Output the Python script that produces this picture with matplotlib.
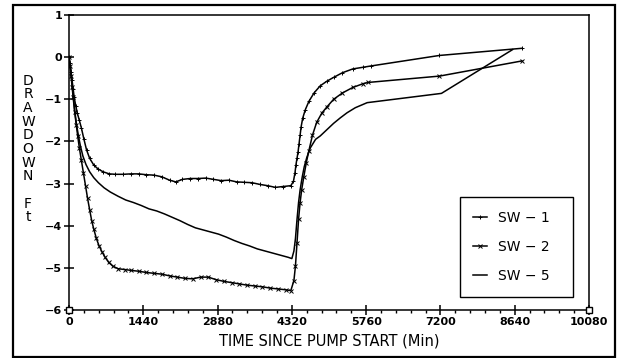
import matplotlib.pyplot as plt
import matplotlib.patches as patches
import numpy as np

### (0) Data (time in min, drawdown in ft) ###
t_sw1 = [0, 20, 40, 60, 80, 100, 130, 160, 200, 240, 290, 340, 400, 480, 560, 660, 780, 900,
         1050, 1200, 1350, 1500, 1650, 1800, 1950, 2070, 2200, 2350, 2500, 2650, 2800, 2950,
         3100, 3250, 3400, 3550, 3700, 3850, 4000, 4150, 4300,
         4350, 4380, 4400, 4420, 4440, 4460, 4480, 4500, 4530, 4580, 4650, 4750, 4870, 5000,
         5130, 5300, 5500, 5700, 5850, 7180, 8780]
d_sw1 = [0, -0.15, -0.35, -0.55, -0.75, -0.95, -1.15, -1.32, -1.5, -1.68, -1.95, -2.2, -2.4,
         -2.56, -2.65, -2.72, -2.77, -2.78, -2.78, -2.77, -2.77, -2.79, -2.80, -2.84, -2.92,
         -2.96, -2.90, -2.88, -2.88, -2.87, -2.90, -2.93, -2.92, -2.96, -2.97, -2.98, -3.02,
         -3.05, -3.09, -3.07, -3.05,
         -2.95, -2.75, -2.55, -2.40, -2.25, -2.05, -1.85, -1.65, -1.45, -1.25, -1.05, -0.85,
         -0.68, -0.57, -0.48, -0.37, -0.28, -0.24, -0.21, 0.04, 0.21]

t_sw2 = [0, 20, 40, 60, 80, 110, 140, 170, 200, 240, 280, 320, 360, 400, 440, 480, 530, 580,
         640, 700, 770, 850, 950, 1080, 1200, 1350, 1500, 1650, 1800, 1950, 2100, 2250, 2400,
         2550, 2700, 2850, 3000, 3150, 3300, 3450, 3600, 3750, 3900, 4050, 4200, 4300,
         4360, 4390, 4420, 4450, 4480, 4510, 4550, 4600, 4650, 4720, 4800, 4900, 5000, 5130,
         5300, 5500, 5700, 5800, 7180, 8780]
d_sw2 = [0, -0.2, -0.45, -0.7, -0.95, -1.3, -1.6, -1.88, -2.15, -2.45, -2.75, -3.05, -3.35,
         -3.62, -3.88, -4.08, -4.30, -4.47, -4.62, -4.75, -4.87, -4.96, -5.02, -5.04, -5.06,
         -5.08, -5.11, -5.13, -5.15, -5.19, -5.22, -5.25, -5.26, -5.22, -5.22, -5.28, -5.32,
         -5.35, -5.38, -5.41, -5.43, -5.45, -5.48, -5.50, -5.52, -5.54,
         -5.30, -4.95, -4.40, -3.85, -3.45, -3.15, -2.85, -2.50, -2.22, -1.85, -1.55, -1.33,
         -1.18, -1.00, -0.85, -0.72, -0.63, -0.60, -0.45, -0.09]

t_sw5 = [0, 20, 40, 60, 80, 110, 140, 180, 220, 270, 330, 400, 480, 570, 680, 800, 950, 1100,
         1250, 1400, 1550, 1700, 1850, 2000, 2150, 2300, 2450, 2600, 2750, 2900, 3050, 3200,
         3350, 3500, 3650, 3800, 3950, 4100, 4250, 4320,
         4360, 4390, 4420, 4450, 4480, 4520, 4560, 4610, 4680, 4780, 4870, 5000, 5130, 5260,
         5390, 5550, 5780, 7220, 8600]
d_sw5 = [0, -0.15, -0.4, -0.65, -0.9, -1.25, -1.55, -1.85, -2.1, -2.35, -2.55, -2.72, -2.86,
         -2.98, -3.10, -3.20, -3.30, -3.39, -3.45, -3.52, -3.60, -3.65, -3.72, -3.80, -3.88,
         -3.97, -4.05, -4.10, -4.15, -4.20, -4.27, -4.35, -4.42, -4.48, -4.55, -4.60, -4.65,
         -4.70, -4.75, -4.78,
         -4.60, -4.30, -3.85, -3.45, -3.15, -2.85, -2.60, -2.38, -2.15, -1.95, -1.87, -1.72,
         -1.57, -1.44, -1.32, -1.20, -1.08, -0.86, 0.18]

labels = ['SW \u2212 1  ', 'SW \u2212 2  ', 'SW \u2212 5  ']
x_ticks = [0, 1440, 2880, 4320, 5760, 7200, 8640, 10080]
y_ticks = [1, 0, -1, -2, -3, -4, -5, -6]

### (1) Figure ###
fig = plt.figure(figsize=(6.18, 3.58), dpi=100)
ax1 = fig.add_axes([69/618, 1-310/358, 520/618, 295/358])

ax1.plot(t_sw1, d_sw1, color='black', lw=1.1, marker='+', ms=3, mew=0.7, label=labels[0])
ax1.plot(t_sw2, d_sw2, color='black', lw=1.1, marker='x', ms=2.3, mew=0.7, label=labels[1])
ax1.plot(t_sw5, d_sw5, color='black', lw=1.1, label=labels[2])

# little squares at the ends of the time axis
ax1.plot([0, 10080], [-6, -6], ls='none', marker='s', ms=5, mfc='white', mec='black',
         mew=1, clip_on=False, zorder=5)

ax1.set_xlim(0, 10080)
ax1.set_ylim(-6, 1)
ax1.set_xticks(x_ticks)
ax1.set_xticks(np.arange(0, 10081, 288), minor=True)
ax1.set_yticks(y_ticks)
ax1.tick_params(axis='both', which='major', direction='inout', length=7, width=1.1,
                labelsize=8, pad=1.5)
ax1.tick_params(axis='x', which='minor', direction='out', length=2.5, width=1)
ax1.tick_params(axis='y', which='minor', left=False)
for lb in ax1.get_xticklabels() + ax1.get_yticklabels():
    lb.set_fontweight('bold')
for s in ax1.spines.values():
    s.set_linewidth(1.1)

ax1.set_xlabel('TIME SINCE PUMP START (Min)', fontsize=10.5, labelpad=5)
fig.text(28/618, 1-149/358, '\n'.join('DRAWDOWN Ft'), fontsize=10,
         ha='center', va='center', linespacing=0.97)

leg = ax1.legend(loc='lower right', bbox_to_anchor=(0.969, 0.044), borderaxespad=0,
                 fontsize=10, fancybox=False, framealpha=1, edgecolor='black',
                 handlelength=1.0, handletextpad=0.8, labelspacing=1.1, borderpad=1.0)
leg.get_frame().set_linewidth(1.0)

# outer frame round the whole picture
fig.patches.append(patches.Rectangle((13/618, 1/358), 602/618, 352/358, fill=False,
                                     lw=1.6, edgecolor='black', transform=fig.transFigure))

fig.savefig('out.png', dpi=100)
